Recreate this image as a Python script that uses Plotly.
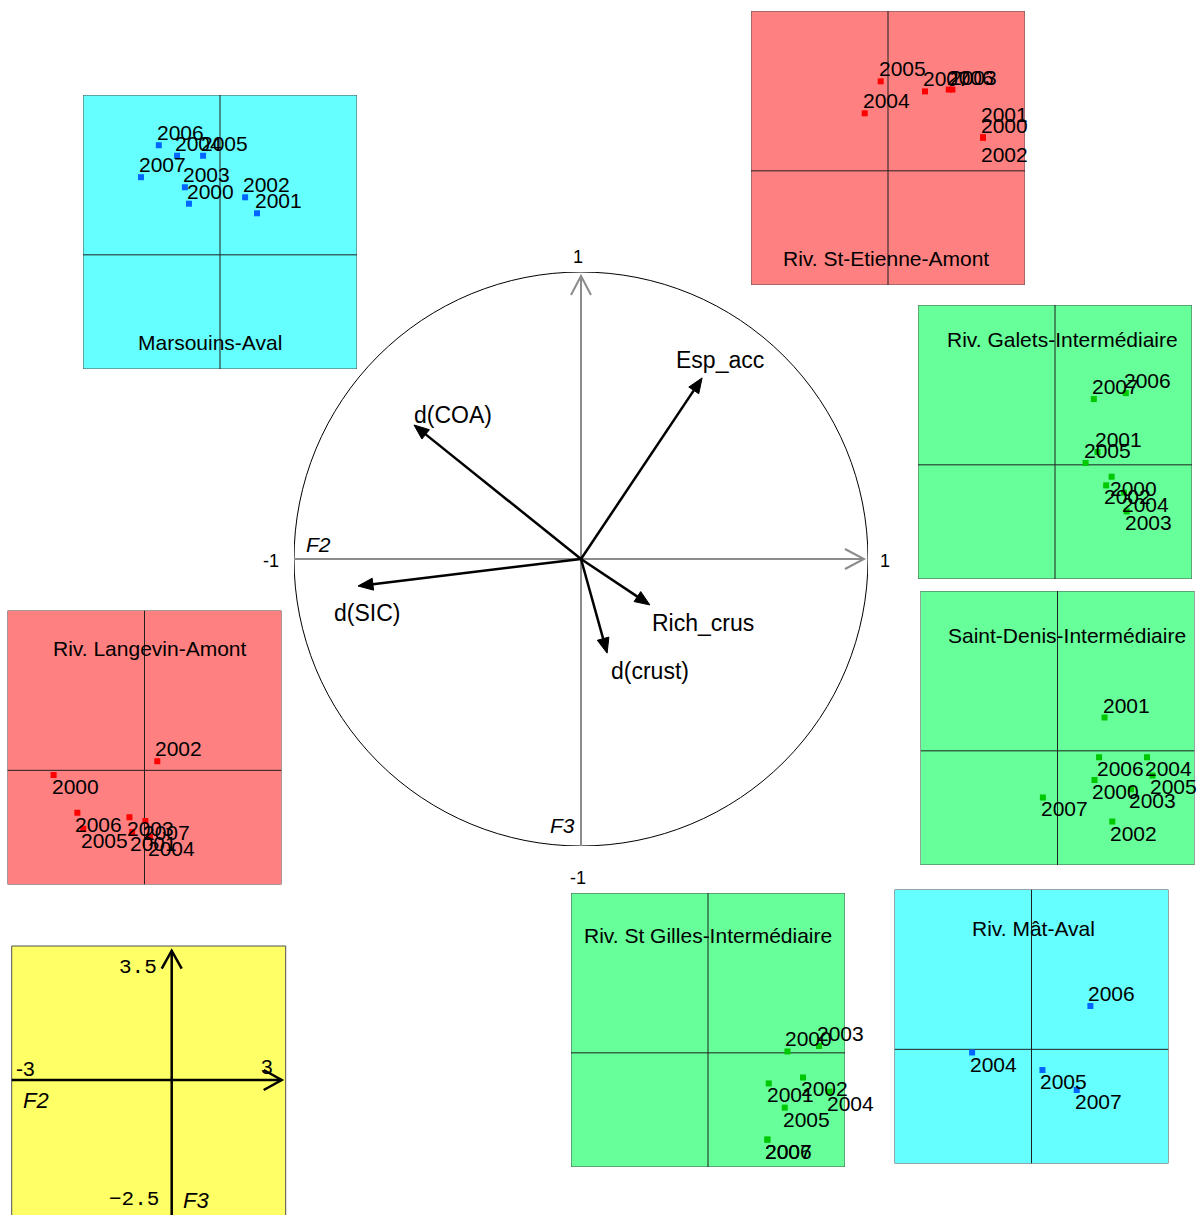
import math
import plotly.graph_objects as go

W, H = 1200, 1215

# ---------------- data ----------------
years = ["2000", "2001", "2002", "2003", "2004", "2005", "2006", "2007"]

marsouins_f2 = [-0.68, 0.81, 0.55, -0.77, -0.94, -0.37, -1.34, -1.73]
marsouins_f3 = [1.12, 0.91, 1.26, 1.48, 2.17, 2.17, 2.40, 1.70]

etienne_f2 = [2.08, 2.08, 2.08, 1.41, -0.51, -0.16, 1.33, 0.81]
etienne_f3 = [0.73, 0.73, 0.73, 1.78, 1.26, 1.96, 1.78, 1.74]

galets_f2 = [1.24, 0.93, 1.12, 1.57, 1.51, 0.67, 1.55, 0.85]
galets_f3 = [-0.26, 0.28, -0.45, -1.02, -0.61, 0.04, 1.57, 1.44]

denis_f2 = [0.81, 1.03, 1.20, 1.61, 1.96, 2.08, 0.91, -0.32]
denis_f3 = [-0.64, 0.73, -1.55, -0.84, -0.14, -0.54, -0.14, -1.02]

langevin_f2 = [-1.99, -0.27, 0.28, -0.33, 0.12, -1.34, -1.47, 0.02]
langevin_f3 = [-0.10, -1.35, 0.20, -1.03, -1.46, -1.28, -0.93, -1.11]

gilles_f2 = [1.74, 1.33, 2.08, 2.43, 2.66, 1.68, 1.30, 1.30]
gilles_f3 = [0.03, -0.67, -0.54, 0.15, -0.85, -1.20, -1.90, -1.90]

mat_years = ["2004", "2005", "2006", "2007"]
mat_f2 = [-1.30, 0.24, 1.29, 0.99]
mat_f3 = [-0.07, -0.45, 0.95, -0.89]

var_names = ["Esp_acc", "d(COA)", "d(SIC)", "Rich_crus", "d(crust)"]
var_f2 = [0.422, -0.582, -0.777, 0.240, 0.091]
var_f3 = [0.631, 0.467, -0.094, -0.160, -0.328]

circle_ticks = ["1", "-1", "1", "-1"]  # top, left, right, bottom
x_range = [-3, 3]
y_range = [-2.5, 3.5]
key_x_labels = ["-3", "3"]
key_y_labels = ["3.5", "\u22122.5"]

# ---------------- style ----------------
CYAN, PINK, GREEN, YELLOW = "#66FFFF", "#FF8080", "#66FF99", "#FFFF66"
BLUE, RED, DGREEN = "#0066FF", "#FF0000", "#00C800"
FONT = "Liberation Sans, Arial, sans-serif"
PS = 274  # panel size in px

panels = [
    dict(name="Marsouins-Aval", years=years, f2=marsouins_f2, f3=marsouins_f3,
         side="aaaaaaaa", dy=[0] * 8, L=83, T=95, bg=CYAN, pt=BLUE, title=(-0.23, -1.92)),
    dict(name="Riv. St-Etienne-Amont", years=years, f2=etienne_f2, f3=etienne_f3,
         side="aabaaaaa", dy=[0, 11, -5, 0, 0, 0, 0, 0], L=751, T=11, bg=PINK, pt=RED, title=(-0.05, -1.92)),
    dict(name="Riv. Galets-Intermédiaire", years=years, f2=galets_f2, f3=galets_f3,
         side="babbbaaa", dy=[0] * 8, L=918, T=305, bg=GREEN, pt=DGREEN, title=(0.17, 2.75)),
    dict(name="Saint-Denis-Intermédiaire", years=years, f2=denis_f2, f3=denis_f3,
         side="babbbbbb", dy=[0] * 8, L=920.5, T=591, bg=GREEN, pt=DGREEN, title=(0.20, 2.52)),
    dict(name="Riv. Langevin-Amont", years=years, f2=langevin_f2, f3=langevin_f3,
         side="bbabbbbb", dy=[0] * 8, L=7.5, T=610.5, bg=PINK, pt=RED, title=(0.12, 2.67)),
    dict(name="Riv. St Gilles-Intermédiaire", years=years, f2=gilles_f2, f3=gilles_f3,
         side="abbabbbb", dy=[0] * 8, L=571, T=893, bg=GREEN, pt=DGREEN, title=(0.0, 2.57)),
    dict(name="Riv. Mât-Aval", years=mat_years, f2=mat_f2, f3=mat_f3,
         side="bbab", dy=[0] * 4, L=894.5, T=889.5, bg=CYAN, pt=BLUE, title=(0.04, 2.65)),
]


def px(x):
    return x / W


def py(y):
    return 1 - y / H


fig = go.Figure()
layout = dict(width=W, height=H, margin=dict(l=0, r=0, t=0, b=0), showlegend=False,
              paper_bgcolor="white", plot_bgcolor="rgba(0,0,0,0)",
              font=dict(family=FONT, size=21, color="black"))
shapes = []
annotations = []

for i, p in enumerate(panels, start=1):
    xa, ya = f"x{i}", f"y{i}"
    layout[f"xaxis{i}"] = dict(domain=[px(p["L"]), px(p["L"] + PS)], range=x_range,
                               visible=False, anchor=ya)
    layout[f"yaxis{i}"] = dict(domain=[py(p["T"] + PS), py(p["T"])], range=y_range,
                               visible=False, anchor=xa)
    shapes.append(dict(type="rect", xref=xa, yref=ya, x0=x_range[0], x1=x_range[1],
                       y0=y_range[0], y1=y_range[1], fillcolor=p["bg"],
                       line=dict(color="#505050", width=1), layer="below"))
    shapes.append(dict(type="line", xref=xa, yref=ya, x0=0, x1=0, y0=y_range[0], y1=y_range[1],
                       line=dict(color="#202020", width=1), layer="below"))
    shapes.append(dict(type="line", xref=xa, yref=ya, x0=x_range[0], x1=x_range[1], y0=0, y1=0,
                       line=dict(color="#202020", width=1), layer="below"))
    fig.add_trace(go.Scatter(x=p["f2"], y=p["f3"], mode="markers", xaxis=xa, yaxis=ya,
                             marker=dict(symbol="square", size=6, color=p["pt"], line=dict(width=0)),
                             hoverinfo="skip"))
    for yr, xv, yv, s, d in zip(p["years"], p["f2"], p["f3"], p["side"], p["dy"]):
        annotations.append(dict(x=xv, y=yv, xref=xa, yref=ya, text=yr, showarrow=False,
                                xanchor="left", yanchor="bottom" if s == "a" else "top",
                                xshift=-2, yshift=(1 if s == "a" else 0) + d,
                                borderpad=0, borderwidth=0, font=dict(size=21)))
    annotations.append(dict(x=p["title"][0], y=p["title"][1], xref=xa, yref=ya, text=p["name"],
                            showarrow=False, xanchor="center", yanchor="middle",
                            borderpad=0, borderwidth=0, font=dict(size=21)))

# ---------------- correlation circle ----------------
CX, CY, R = 581, 559, 287
ci = len(panels) + 1
cxa, cya = f"x{ci}", f"y{ci}"
layout[f"xaxis{ci}"] = dict(domain=[px(CX - R), px(CX + R)], range=[-1, 1], visible=False, anchor=cya)
layout[f"yaxis{ci}"] = dict(domain=[py(CY + R), py(CY - R)], range=[-1, 1], visible=False, anchor=cxa)
fig.add_trace(go.Scatter(x=[0], y=[0], mode="markers", xaxis=cxa, yaxis=cya,
                         marker=dict(size=1, color="rgba(0,0,0,0)"), hoverinfo="skip"))

shapes.append(dict(type="circle", xref=cxa, yref=cya, x0=-1, y0=-1, x1=1, y1=1,
                   line=dict(color="black", width=1)))
GRAY = "#8C8C8C"
tipu = 0.986
hl, hw = 19 / R, 10 / R
shapes.append(dict(type="line", xref=cxa, yref=cya, x0=-1, y0=0, x1=tipu, y1=0,
                   line=dict(color=GRAY, width=2)))
shapes.append(dict(type="line", xref=cxa, yref=cya, x0=0, y0=-1, x1=0, y1=tipu,
                   line=dict(color=GRAY, width=2)))
shapes.append(dict(type="path", xref=cxa, yref=cya,
                   path=f"M {tipu-hl},{hw} L {tipu},0 L {tipu-hl},{-hw}",
                   line=dict(color=GRAY, width=2)))
shapes.append(dict(type="path", xref=cxa, yref=cya,
                   path=f"M {-hw},{tipu-hl} L 0,{tipu} L {hw},{tipu-hl}",
                   line=dict(color=GRAY, width=2)))

label_shift = [(18, 18), (39, 10), (9, -27), (53, -18), (43, -18)]
ahl, ahw = 15 / R, 6 / R
for name, xv, yv, (sx, sy) in zip(var_names, var_f2, var_f3, label_shift):
    n = math.hypot(xv, yv)
    ux, uy = xv / n, yv / n
    bx, by = xv - ahl * ux, yv - ahl * uy
    shapes.append(dict(type="line", xref=cxa, yref=cya, x0=0, y0=0, x1=bx, y1=by,
                       line=dict(color="black", width=2.5)))
    shapes.append(dict(type="path", xref=cxa, yref=cya,
                       path=f"M {xv},{yv} L {bx - ahw*uy},{by + ahw*ux} L {bx + ahw*uy},{by - ahw*ux} Z",
                       fillcolor="black", line=dict(color="black", width=1)))
    annotations.append(dict(x=xv, y=yv, xref=cxa, yref=cya, text=name, showarrow=False,
                            xanchor="center", yanchor="middle", xshift=sx, yshift=sy,
                            borderpad=0, borderwidth=0, font=dict(size=23)))

# circle tick labels (paper coords, positioned around the circle)
tick_pos = [(578, 257), (271, 561), (885, 561), (578, 878)]
for txt, (tx, ty) in zip(circle_ticks, tick_pos):
    annotations.append(dict(x=px(tx), y=py(ty), xref="paper", yref="paper", text=txt, showarrow=False,
                            xanchor="center", yanchor="middle", borderpad=0, borderwidth=0,
                            font=dict(size=18)))
for txt, xv, yv in [("F2", -0.913, 0.049), ("F3", -0.063, -0.927)]:
    annotations.append(dict(x=xv, y=yv, xref=cxa, yref=cya, text=f"<i>{txt}</i>", showarrow=False,
                            xanchor="center", yanchor="middle", borderpad=0, borderwidth=0,
                            font=dict(size=21)))

# ---------------- key (scale box) ----------------
KL, KT = 11.7, 946
KAX, KAY = 171.7, 1080
shapes.append(dict(type="rect", xref="paper", yref="paper", x0=px(KL), x1=px(KL + PS),
                   y0=py(KT + PS), y1=py(KT), fillcolor=YELLOW, line=dict(color="#505050", width=1),
                   layer="below"))
shapes.append(dict(type="line", xref="paper", yref="paper", x0=px(KL), x1=px(281.7),
                   y0=py(KAY), y1=py(KAY), line=dict(color="black", width=2.5)))
shapes.append(dict(type="line", xref="paper", yref="paper", x0=px(KAX), x1=px(KAX),
                   y0=py(KT + PS), y1=py(950.7), line=dict(color="black", width=2.5)))
shapes.append(dict(type="path", xref="paper", yref="paper",
                   path=f"M {px(281.7-18)},{py(KAY-10)} L {px(281.7)},{py(KAY)} L {px(281.7-18)},{py(KAY+10)}",
                   line=dict(color="black", width=2.5)))
shapes.append(dict(type="path", xref="paper", yref="paper",
                   path=f"M {px(KAX-10)},{py(950.7+18)} L {px(KAX)},{py(950.7)} L {px(KAX+10)},{py(950.7+18)}",
                   line=dict(color="black", width=2.5)))
annotations.append(dict(x=px(157), y=py(967.5), xref="paper", yref="paper", text=key_y_labels[0],
                        showarrow=False, xanchor="right", yanchor="middle", borderpad=0, borderwidth=0,
                        font=dict(size=21, family="Liberation Mono, Courier New, monospace")))
annotations.append(dict(x=px(158.5), y=py(1199), xref="paper", yref="paper", text=key_y_labels[1],
                        showarrow=False, xanchor="right", yanchor="middle", borderpad=0, borderwidth=0,
                        font=dict(size=21, family="Liberation Mono, Courier New, monospace")))
annotations.append(dict(x=px(25.5), y=py(1068), xref="paper", yref="paper", text=key_x_labels[0],
                        showarrow=False, xanchor="center", yanchor="middle", borderpad=0, borderwidth=0,
                        font=dict(size=21)))
annotations.append(dict(x=px(267), y=py(1066), xref="paper", yref="paper", text=key_x_labels[1],
                        showarrow=False, xanchor="center", yanchor="middle", borderpad=0, borderwidth=0,
                        font=dict(size=21)))
annotations.append(dict(x=px(35.5), y=py(1100), xref="paper", yref="paper", text="<i>F2</i>",
                        showarrow=False, xanchor="center", yanchor="middle", borderpad=0, borderwidth=0,
                        font=dict(size=22)))
annotations.append(dict(x=px(196), y=py(1200), xref="paper", yref="paper", text="<i>F3</i>",
                        showarrow=False, xanchor="center", yanchor="middle", borderpad=0, borderwidth=0,
                        font=dict(size=22)))

layout["shapes"] = shapes
layout["annotations"] = annotations
fig.update_layout(**layout)
fig.write_html("out.html", config={"displayModeBar": False},
               post_script="document.body.style.margin='0';document.body.style.overflow='hidden';")
